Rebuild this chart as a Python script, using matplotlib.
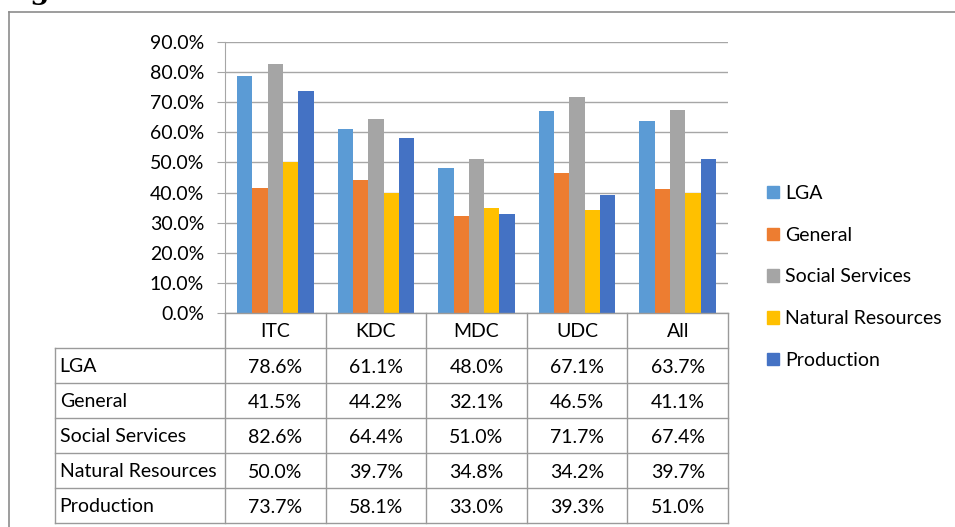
import numpy as np
import matplotlib
matplotlib.use('Agg')
import matplotlib.pyplot as plt
import matplotlib.patches as mpatches
from matplotlib.lines import Line2D

plt.rcParams['font.family'] = ['Lato', 'DejaVu Sans']

categories = ['ITC', 'KDC', 'MDC', 'UDC', 'All']
series = ['LGA', 'General', 'Social Services', 'Natural Resources', 'Production']
lga = [78.6, 61.1, 48.0, 67.1, 63.7]
general = [41.5, 44.2, 32.1, 46.5, 41.1]
social = [82.6, 64.4, 51.0, 71.7, 67.4]
natural = [50.0, 39.7, 34.8, 34.2, 39.7]
production = [73.7, 58.1, 33.0, 39.3, 51.0]
values = [lga, general, social, natural, production]
colors = ['#5B9BD5', '#ED7D31', '#A5A5A5', '#FFC000', '#4472C4']
yticks = np.arange(0, 91, 10)

W, H = 955, 527
fig = plt.figure(figsize=(W / 100, H / 100), dpi=100)
fs = 14
grid_c = '#A6A6A6'

# outer frame of the chart object (only top and left edges visible)
fig.add_artist(Line2D([9 / W, 1], [1 - 12 / H, 1 - 12 / H], color='#8C8C8C', lw=1.2))
fig.add_artist(Line2D([9 / W, 9 / W], [0, 1 - 12 / H], color='#8C8C8C', lw=1.2))
# caption above the chart, cut off at the top edge of the image
fig.text(0.0, 1 + 1 / H, 'Figure 9', fontsize=20, fontweight='bold', family='DejaVu Serif',
         ha='left', va='baseline')

# bar plot
ax = fig.add_axes([225 / W, 1 - 313 / H, (728 - 225) / W, (313 - 42) / H])
x = np.arange(len(categories))
bw = 0.152
for k, (name, vals) in enumerate(zip(series, values)):
    ax.bar(x + (k - 2) * bw, np.array(vals) / 100, width=bw, color=colors[k], label=name, zorder=3)
ax.set_xlim(-0.5, 4.5)
ax.set_ylim(0, 0.9)
ax.set_yticks(yticks / 100)
ax.set_yticklabels([f'{v:.1f}%' for v in yticks], fontsize=fs)
ax.set_xticks([])
ax.yaxis.grid(True, color=grid_c, lw=1.0, zorder=0)
for s in ['top', 'right', 'bottom']:
    ax.spines[s].set_visible(False)
ax.spines['left'].set_color(grid_c)
ax.tick_params(axis='y', length=6, color=grid_c, pad=9)

# data table below the plot
lab_w = (225 - 54.7) / 100.6
xl = -0.5 - lab_w
tab = fig.add_axes([54.7 / W, 1 - 523 / H, (728 - 54.7) / W, (523 - 313) / H])
tab.set_xlim(xl, 4.5)
tab.set_ylim(6, 0)
tab.axis('off')
lc = '#9A9A9A'
for i in range(len(categories) + 1):
    tab.plot([i - 0.5, i - 0.5], [0, 6], color=lc, lw=1.0, clip_on=False)
tab.plot([xl, xl], [1, 6], color=lc, lw=1.0, clip_on=False)
tab.plot([-0.5, 4.5], [0, 0], color=lc, lw=1.0, clip_on=False)
for r in range(1, 7):
    tab.plot([xl, 4.5], [r, r], color=lc, lw=1.0, clip_on=False)
for i, c in enumerate(categories):
    tab.text(i, 0.52, c, ha='center', va='center', fontsize=fs)
for r, (name, vals) in enumerate(zip(series, values), start=1):
    tab.text(xl + 0.05, r + 0.54, name, ha='left', va='center', fontsize=fs)
    for i, v in enumerate(vals):
        tab.text(i, r + 0.56, f'{v:.1f}%', ha='center', va='center', fontsize=fs)

# legend
handles = [mpatches.Patch(color=c, label=n) for c, n in zip(colors, series)]
fig.legend(handles=handles, loc='upper left', bbox_to_anchor=(767 / W, 1 - 185 / H),
           frameon=False, fontsize=fs, handlelength=0.62, handleheight=0.62,
           handletextpad=0.3, labelspacing=1.27, borderpad=0, borderaxespad=0)

fig.savefig('out.png', dpi=100)
